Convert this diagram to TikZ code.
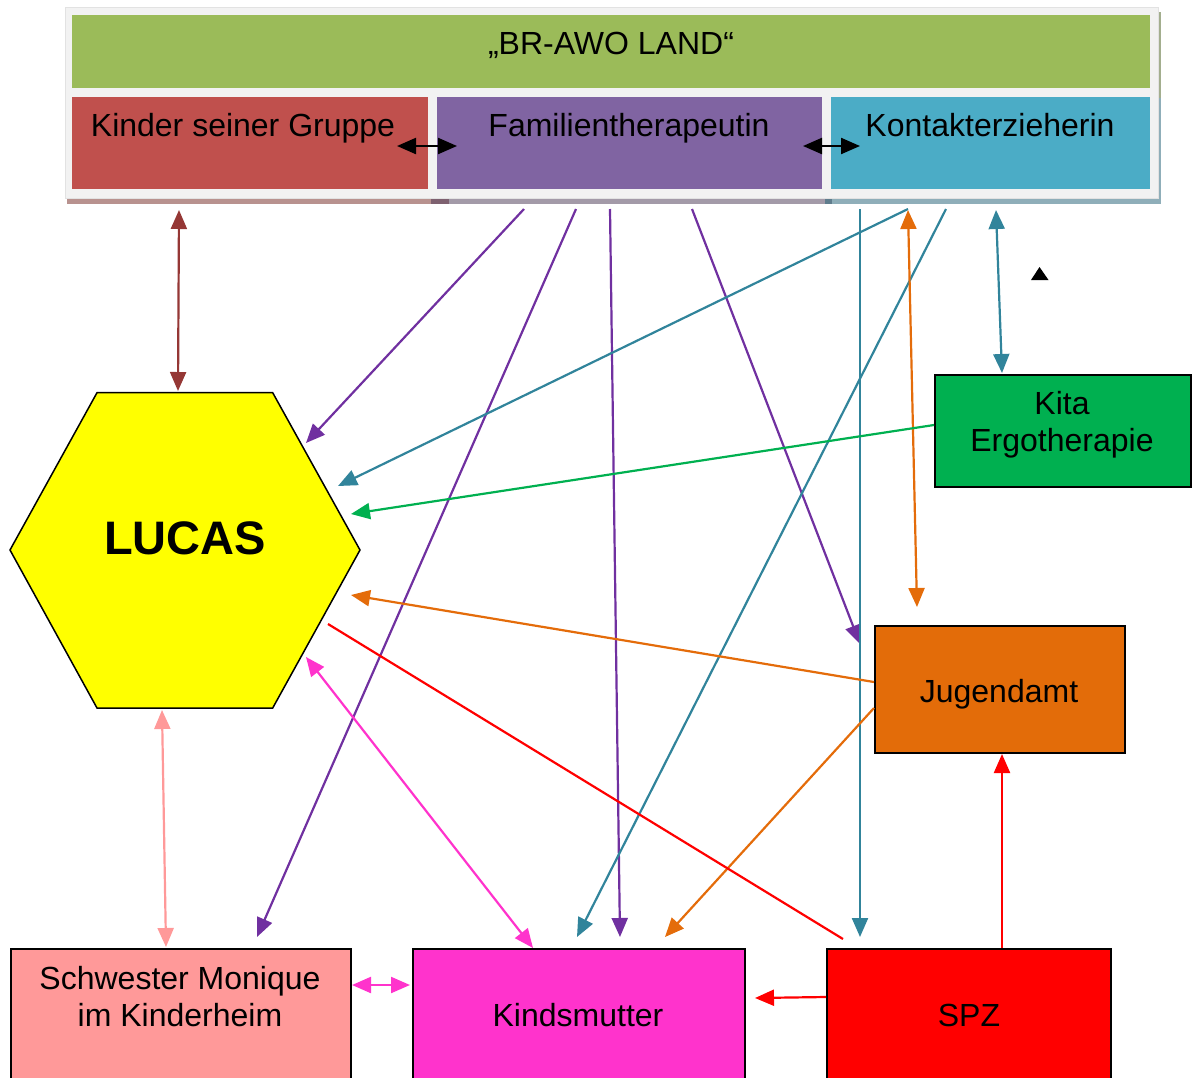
\documentclass[tikz,border=0pt]{standalone}
\usepackage{fontspec}
\setmainfont{Liberation Sans}
\usetikzlibrary{arrows.meta}
\definecolor{landgreen}{HTML}{9BBB59}
\definecolor{kinderred}{HTML}{C0504D}
\definecolor{familpurple}{HTML}{8064A2}
\definecolor{kontaktblue}{HTML}{4BACC6}
\definecolor{framegray}{HTML}{F2F2F2}
\definecolor{frameedge}{HTML}{E2E2E2}
\definecolor{lucasyellow}{HTML}{FFFF00}
\definecolor{kitagreen}{HTML}{00B050}
\definecolor{jugorange}{HTML}{E36C09}
\definecolor{schwpink}{HTML}{FF9999}
\definecolor{mutterpink}{HTML}{FF33CC}
\definecolor{spzred}{HTML}{FF0000}
\definecolor{lnpurple}{HTML}{7030A0}
\definecolor{lnteal}{HTML}{31849B}
\definecolor{lnorange}{HTML}{E46C0A}
\definecolor{lndarkred}{HTML}{953735}
\definecolor{lngreen}{HTML}{00B050}
\definecolor{stripA}{HTML}{B8928F}
\definecolor{stripB}{HTML}{7E6170}
\definecolor{stripC}{HTML}{A39AA8}
\definecolor{stripD}{HTML}{5F7D8D}
\definecolor{stripE}{HTML}{8FAEB9}
\definecolor{stripF}{HTML}{A3AE8E}
\begin{document}
\begin{tikzpicture}[x=1pt,y=-1pt,
  box/.style={draw=black,line width=1.5pt,anchor=north west,inner sep=0pt},
  flat/.style={draw=none,anchor=north west,inner sep=0pt},
  lbl/.style={font=\fontsize{32}{37}\selectfont,anchor=base,inner sep=0pt},
  mlbl/.style={font=\fontsize{32}{37}\selectfont,align=center,anchor=north,inner sep=0pt},
  conn/.style={line width=2.2pt},
  arrto/.style={-{Triangle[length=19pt,width=16pt]}},
  arrboth/.style={{Triangle[length=19pt,width=16pt]}-{Triangle[length=19pt,width=16pt]}},
]
\useasboundingbox (0,0) rectangle (1192,1077);

% ---- top frame ----
\fill[stripA] (67,199) rectangle (431,204);
\fill[stripB] (431,199) rectangle (449,204);
\fill[stripC] (449,199) rectangle (825,204);
\fill[stripD] (825,199) rectangle (832,204);
\fill[stripE] (832,199) rectangle (1161,204);
\fill[stripF] (1157,12) rectangle (1161,98);
\fill[stripE] (1157,98) rectangle (1161,204);
\node[flat,fill=framegray,draw=frameedge,line width=0.8pt,minimum width=1093pt,minimum height=191pt] (frame) at (65,7) {};
\node[flat,fill=landgreen,minimum width=1078pt,minimum height=73pt] (land) at (72,15) {};
\node[flat,fill=kinderred,minimum width=356pt,minimum height=92pt] (kinder) at (72,97) {};
\node[flat,fill=familpurple,minimum width=385pt,minimum height=92pt] (famil) at (437,97) {};
\node[flat,fill=kontaktblue,minimum width=319pt,minimum height=92pt] (kontakt) at (831,97) {};
\node[lbl] (landT) at (611,54) {„BR-AWO LAND“};
\node[lbl] (kinderT) at (243,136) {Kinder seiner Gruppe};
\node[lbl] (familT) at (629,136) {Familientherapeutin};
\node[lbl] (kontaktT) at (990,136) {Kontakterzieherin};

% ---- LUCAS hexagon ----
\draw[fill=lucasyellow,line width=1.5pt] (97,392.7) -- (272.7,392.7) -- (360,550) -- (272.7,708) -- (97,708) -- (10,550) -- cycle;
\node[anchor=base,inner sep=0pt,font=\fontsize{47}{56}\selectfont\bfseries] (lucas) at (185,554) {LUCAS};

% ---- other boxes ----
\node[box,fill=kitagreen,minimum width=256pt,minimum height=112pt] (kita) at (934,374) {};
\node[mlbl] (kitaT) at (1062,391) {Kita\\Ergotherapie};
\node[box,fill=jugorange,minimum width=250pt,minimum height=127pt] (jug) at (874,625) {};
\node[lbl] (jugT) at (999,702) {Jugendamt};
\node[box,fill=schwpink,minimum width=340pt,minimum height=150pt] (schw) at (10,948) {};
\node[mlbl] (schwT) at (180,966) {Schwester Monique\\im Kinderheim};
\node[box,fill=mutterpink,minimum width=332pt,minimum height=150pt] (mutter) at (412,948) {};
\node[lbl] (mutterT) at (578,1026) {Kindsmutter};
\node[box,fill=spzred,minimum width=284pt,minimum height=150pt] (spz) at (826,948) {};
\node[lbl] (spzT) at (969,1026) {SPZ};

% ---- small black triangle ----
\fill[black] (1039.5,267) -- (1048.5,280) -- (1031,280) -- cycle;

% ---- connector end points ----
\coordinate (kgA) at (397,146);  \coordinate (ftA) at (457,146);
\coordinate (ftB) at (803,146);  \coordinate (keA) at (860,146);
\coordinate (kgOut) at (179,210); \coordinate (lucTop) at (178,391);
\coordinate (ft1) at (524,209);  \coordinate (lucP1) at (306,443);
\coordinate (ft2) at (576,209);  \coordinate (schwP) at (257,937);
\coordinate (ft3) at (610,209);  \coordinate (mutP) at (620,937);
\coordinate (ft4) at (692,209);  \coordinate (jugP) at (860,644);
\coordinate (ke1) at (908,209);  \coordinate (lucT1) at (338,486);
\coordinate (ke2) at (946,209);  \coordinate (mutT) at (577,937);
\coordinate (ke3) at (860,209);  \coordinate (spzT1) at (860,937);
\coordinate (ke4) at (908,210);  \coordinate (jugTop) at (917,607);
\coordinate (ke5) at (996,210);  \coordinate (kitaTop) at (1002,373);
\coordinate (kitaW) at (934,425); \coordinate (lucG) at (351,514);
\coordinate (jugW1) at (874,682); \coordinate (lucO) at (351,595);
\coordinate (jugW2) at (874,708); \coordinate (mutO) at (665,937);
\coordinate (spzR) at (843,939); \coordinate (lucR) at (328,624);
\coordinate (lucPk) at (306,657); \coordinate (mutPk) at (533,948);
\coordinate (lucLp) at (162,710); \coordinate (schwTop) at (166,947);
\coordinate (schwE) at (352,985); \coordinate (mutW) at (410,985);
\coordinate (spzW) at (826,997); \coordinate (mutE) at (755,998);
\coordinate (spzN) at (1002,948); \coordinate (jugS) at (1002,754);

% ---- connectors ----
\draw[conn,arrboth,black] (kgA) -- (ftA);
\draw[conn,arrboth,black] (ftB) -- (keA);
\draw[conn,arrboth,lndarkred] (kgOut) -- (lucTop);
\draw[conn,arrto,lnpurple] (ft1) -- (lucP1);
\draw[conn,arrto,lnpurple] (ft2) -- (schwP);
\draw[conn,arrto,lnpurple] (ft3) -- (mutP);
\draw[conn,arrto,lnpurple] (ft4) -- (jugP);
\draw[conn,arrto,lnteal] (ke1) -- (lucT1);
\draw[conn,arrto,lnteal] (ke2) -- (mutT);
\draw[conn,arrto,lnteal] (ke3) -- (spzT1);
\draw[conn,arrboth,lnorange] (ke4) -- (jugTop);
\draw[conn,arrboth,lnteal] (ke5) -- (kitaTop);
\draw[conn,arrto,lngreen] (kitaW) -- (lucG);
\draw[conn,arrto,lnorange] (jugW1) -- (lucO);
\draw[conn,arrto,lnorange] (jugW2) -- (mutO);
\draw[conn,spzred] (spzR) -- (lucR);
\draw[conn,arrboth,mutterpink] (lucPk) -- (mutPk);
\draw[conn,arrboth,schwpink] (lucLp) -- (schwTop);
\draw[conn,arrboth,mutterpink] (schwE) -- (mutW);
\draw[conn,arrto,spzred] (spzW) -- (mutE);
\draw[conn,arrto,spzred] (spzN) -- (jugS);
\end{tikzpicture}
\end{document}
